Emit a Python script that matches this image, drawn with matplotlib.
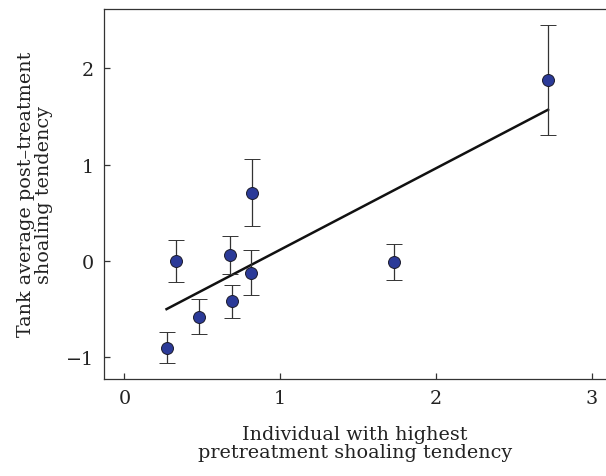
import numpy as np
import matplotlib
matplotlib.use('Agg')
from matplotlib import pyplot as plt

# values
x_vals = [0.27, 0.33, 0.48, 0.68, 0.69, 0.81, 0.82, 1.73, 2.72]
y_vals = [-0.90, 0.00, -0.58, 0.06, -0.42, -0.12, 0.71, -0.01, 1.88]
y_err = [0.16, 0.22, 0.18, 0.20, 0.175, 0.235, 0.35, 0.19, 0.57]

# fitted line end points
fit_x = [0.27, 2.72]
fit_y = [-0.50, 1.57]

x_ticks = [0, 1, 2, 3]
y_ticks = [-1, 0, 1, 2]

plt.rcParams['font.family'] = ['DejaVu Serif']
plt.rcParams['font.size'] = 13.8

fig = plt.figure(figsize=(6.06, 4.77), dpi=100)
ax = fig.add_axes([0.171, 0.2034, 0.829, 0.7766])

ax.plot(fit_x, fit_y, color='#111111', linewidth=1.8, zorder=2)
ax.errorbar(x_vals, y_vals, yerr=y_err, fmt='o', color='#333333',
            ecolor='#333333', elinewidth=0.9, capsize=5.8, capthick=0.9,
            markersize=8.6, markerfacecolor='#2b3a98',
            markeredgecolor='#1a1a2a', markeredgewidth=0.7, zorder=3)

ax.set_xlim(-0.134, 3.092)
ax.set_ylim(-1.225, 2.62)
ax.set_xticks(x_ticks)
ax.set_yticks(y_ticks)
ax.set_yticklabels(['\u22121', '0', '1', '2'])

for side in ['left', 'bottom', 'top']:
    ax.spines[side].set_color('#333333')
    ax.spines[side].set_linewidth(0.9)
ax.spines['right'].set_visible(False)

ax.tick_params(direction='in', length=4, width=0.9, color='#333333',
               labelcolor='#222222', pad=7)

ax.set_xlabel('Individual with highest\npretreatment shoaling tendency',
              color='#222222', labelpad=13, linespacing=1.05)
ax.set_ylabel('Tank average post\u2013treatment\nshoaling tendency',
              color='#222222', labelpad=9, linespacing=1.05)

fig.savefig('out.png', dpi=100)
